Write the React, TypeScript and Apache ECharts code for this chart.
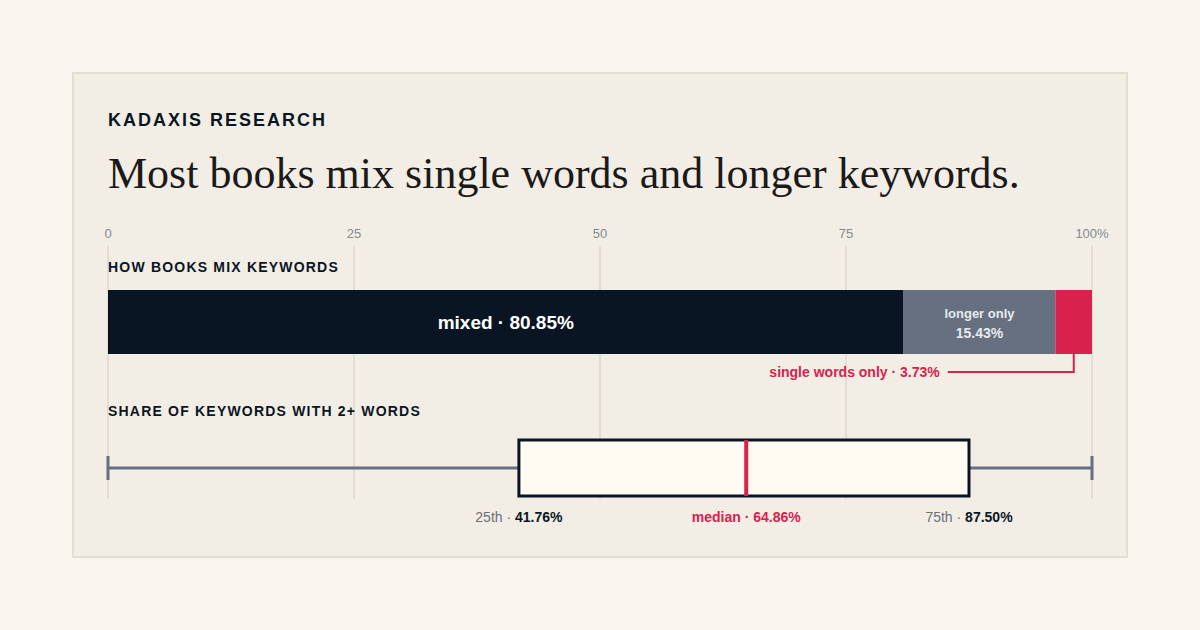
import React, { useEffect, useRef } from 'react';
import * as echarts from 'echarts';

// axis
const AXIS_MIN = 0;
const AXIS_MAX = 100;
const AXIS_STEP = 25;

// how books mix keywords (share of books, %)
const MIX_CATEGORIES = ['mixed', 'longer only', 'single words only'];
const MIX_SHARES = [80.85, 15.43, 3.73];

// share of keywords with 2+ words: min, 25th, median, 75th, max
const BOX_STATS = [0, 41.76, 64.86, 87.5, 100];
const BOX_LABELS = ['25th', 'median', '75th'];

const SANS = '"Liberation Sans", Arial, Helvetica, sans-serif';
const SERIF = '"Liberation Serif", "Times New Roman", serif';
const DARK = '#0a1524';
const SLATE = '#667080';
const RED = '#d9214e';
const GRID_LINE = '#e4ded0';

const pct = (v: number) => `${v.toFixed(2)}%`;

export default function App() {
  const chartRef = useRef<HTMLDivElement>(null);

  useEffect(() => {
    if (!chartRef.current) return;
    const chart = echarts.init(chartRef.current, null, { renderer: 'svg' });

    const singleCenter = MIX_SHARES[0] + MIX_SHARES[1] + MIX_SHARES[2] / 2;

    const xAxis = [0, 1, 2].map((i) => ({
      gridIndex: i,
      type: 'value',
      min: AXIS_MIN,
      max: AXIS_MAX,
      interval: AXIS_STEP,
      position: 'top',
      show: i === 0,
      axisLine: { show: false },
      axisTick: { show: false },
      splitLine: { show: i === 0, lineStyle: { color: GRID_LINE, width: 2 } },
      axisLabel: {
        show: i === 0,
        margin: 6,
        color: '#858a91',
        fontSize: 13,
        fontFamily: SANS,
        formatter: (v: number) => (v === AXIS_MAX ? `${v}%` : String(v)),
      },
    }));

    const yAxis = [0, 1, 2].map((i) => ({
      gridIndex: i,
      type: 'category',
      data: ['row'],
      show: false,
    }));

    const barColors = [DARK, SLATE, RED];

    const barSeries = MIX_SHARES.map((v, i) => ({
      name: MIX_CATEGORIES[i],
      type: 'bar',
      xAxisIndex: 1,
      yAxisIndex: 1,
      stack: 'mix',
      barWidth: '100%',
      data: [v],
      itemStyle: { color: barColors[i] },
      label:
        i === 0
          ? {
              show: true,
              position: 'inside',
              formatter: `${MIX_CATEGORIES[0]} · ${pct(v)}`,
              color: '#ffffff',
              fontSize: 19,
              fontWeight: 'bold',
              fontFamily: SANS,
            }
          : i === 1
          ? {
              show: true,
              position: 'inside',
              offset: [0, 1],
              formatter: `{a|${MIX_CATEGORIES[1]}}\n{b|${pct(v)}}`,
              rich: {
                a: { color: '#e8ebef', fontSize: 13, fontWeight: 'bold', fontFamily: SANS, lineHeight: 20 },
                b: { color: '#e8ebef', fontSize: 14, fontWeight: 'bold', fontFamily: SANS, lineHeight: 20 },
              },
            }
          : { show: false },
    }));

    const option = {
      animation: false,
      grid: [
        { left: 108, width: 984, top: 246, height: 253 },
        { left: 108, width: 984, top: 290, height: 64 },
        { left: 108, width: 984, top: 440, height: 56 },
      ],
      xAxis,
      yAxis,
      series: [
        ...barSeries,
        {
          type: 'custom',
          xAxisIndex: 1,
          yAxisIndex: 1,
          data: [[singleCenter, 0]],
          encode: { x: 0, y: 1 },
          renderItem: (_p: any, api: any) => {
            const pt = api.coord([api.value(0), 0]);
            const band = api.size([0, 1])[1];
            const bottom = pt[1] + band / 2;
            const y = bottom + 18;
            return {
              type: 'group',
              children: [
                {
                  type: 'polyline',
                  shape: { points: [[pt[0], bottom], [pt[0], y], [pt[0] - 126, y]] },
                  style: { stroke: RED, lineWidth: 2, fill: null },
                },
                {
                  type: 'text',
                  style: {
                    x: pt[0] - 134,
                    y,
                    text: `${MIX_CATEGORIES[2]} · ${pct(MIX_SHARES[2])}`,
                    align: 'right',
                    verticalAlign: 'middle',
                    fill: RED,
                    fontSize: 14,
                    fontWeight: 'bold',
                    fontFamily: SANS,
                  },
                },
              ],
            };
          },
        },
        {
          type: 'custom',
          xAxisIndex: 2,
          yAxisIndex: 2,
          data: [[...BOX_STATS, 0]],
          encode: { x: [0, 1, 2, 3, 4], y: 5 },
          renderItem: (_p: any, api: any) => {
            const [mn, q1, md, q3, mx] = [0, 1, 2, 3, 4].map((d) => api.value(d));
            const X = (v: number) => api.coord([v, 0])[0];
            const cy = api.coord([mn, 0])[1];
            const h = api.size([0, 1])[1];
            const top = cy - h / 2;
            const bottom = cy + h / 2;
            const ly = bottom + 21;
            const whisker = { stroke: SLATE, lineWidth: 3 };
            const rich = {
              l: { fill: '#6b6f76', fontSize: 14, fontFamily: SANS },
              v: { fill: DARK, fontSize: 14, fontWeight: 'bold', fontFamily: SANS },
              m: { fill: RED, fontSize: 14, fontWeight: 'bold', fontFamily: SANS },
            };
            return {
              type: 'group',
              children: [
                { type: 'line', shape: { x1: X(mn), y1: cy, x2: X(q1), y2: cy }, style: whisker },
                { type: 'line', shape: { x1: X(q3), y1: cy, x2: X(mx), y2: cy }, style: whisker },
                { type: 'line', shape: { x1: X(mn), y1: cy - 12, x2: X(mn), y2: cy + 12 }, style: whisker },
                { type: 'line', shape: { x1: X(mx), y1: cy - 12, x2: X(mx), y2: cy + 12 }, style: whisker },
                {
                  type: 'rect',
                  shape: { x: X(q1), y: top, width: X(q3) - X(q1), height: h },
                  style: { fill: '#fffaf2', stroke: DARK, lineWidth: 3 },
                },
                {
                  type: 'line',
                  shape: { x1: X(md), y1: top, x2: X(md), y2: bottom },
                  style: { stroke: RED, lineWidth: 4 },
                },
                {
                  type: 'text',
                  style: {
                    x: X(q1), y: ly, align: 'center', verticalAlign: 'middle',
                    text: `{l|${BOX_LABELS[0]} · }{v|${pct(q1)}}`, rich,
                  },
                },
                {
                  type: 'text',
                  style: {
                    x: X(md), y: ly, align: 'center', verticalAlign: 'middle',
                    text: `{m|${BOX_LABELS[1]} · ${pct(md)}}`, rich,
                  },
                },
                {
                  type: 'text',
                  style: {
                    x: X(q3), y: ly, align: 'center', verticalAlign: 'middle',
                    text: `{l|${BOX_LABELS[2]} · }{v|${pct(q3)}}`, rich,
                  },
                },
              ],
            };
          },
        },
      ],
    };

    chart.setOption(option as any);
    return () => chart.dispose();
  }, []);

  const label: React.CSSProperties = {
    position: 'absolute',
    left: 108,
    fontFamily: SANS,
    fontWeight: 'bold',
    color: DARK,
    lineHeight: 1,
    whiteSpace: 'nowrap',
  };

  return (
    <div style={{ position: 'fixed', left: 0, top: 0, width: 1200, height: 630, background: '#f8f5ee', overflow: 'hidden' }}>
      <div
        style={{
          position: 'absolute', left: 72, top: 72, width: 1056, height: 486,
          boxSizing: 'border-box', border: '2px solid #e3ded2', background: '#f2eee6',
        }}
      />
      <div ref={chartRef} style={{ position: 'absolute', left: 0, top: 0, width: 1200, height: 630 }} />
      <div style={{ ...label, top: 111, fontSize: 18, letterSpacing: 2 }}>KADAXIS RESEARCH</div>
      <div
        style={{
          position: 'absolute', left: 108, top: 152, fontFamily: SERIF, fontSize: 44,
          lineHeight: 1, color: '#1c1a18', whiteSpace: 'nowrap',
        }}
      >
        Most books mix single words and longer keywords.
      </div>
      <div style={{ ...label, top: 260, fontSize: 14, letterSpacing: 1.2 }}>HOW BOOKS MIX KEYWORDS</div>
      <div style={{ ...label, top: 404, fontSize: 14, letterSpacing: 1.2 }}>SHARE OF KEYWORDS WITH 2+ WORDS</div>
    </div>
  );
}
